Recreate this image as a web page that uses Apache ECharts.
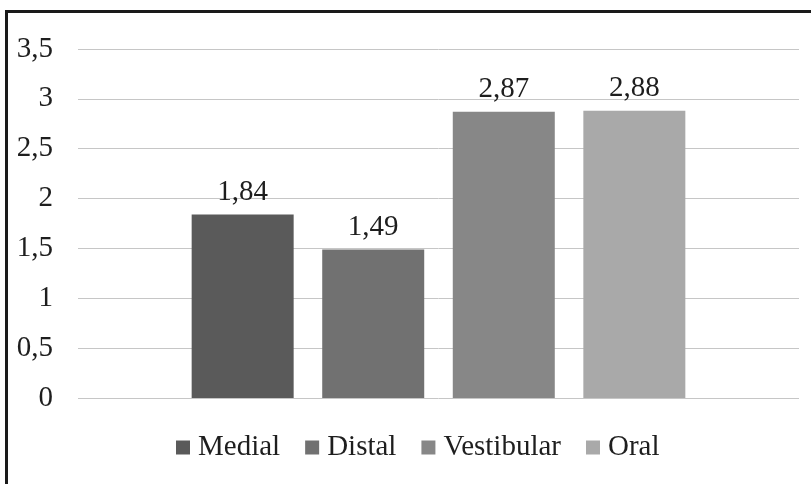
<!DOCTYPE html>
<html>
<head>
<meta charset="utf-8">
<script src="https://cdn.jsdelivr.net/npm/echarts@6/dist/echarts.min.js"></script>
<style>
  html, body { margin: 0; padding: 0; background: #fff; }
  #chart { width: 811px; height: 484px; }
</style>
</head>
<body>
<div id="chart"></div>
<script>
// Mean values per surface
const categories = [''];
const seriesNames = ['Medial', 'Distal', 'Vestibular', 'Oral'];
const seriesValues = [1.84, 1.49, 2.87, 2.88];
const seriesColors = ['#5a5a5a', '#717171', '#878787', '#a9a9a9'];
const yTicks = { min: 0, max: 3.5, interval: 0.5 };

const FONT = '"Liberation Serif", "Times New Roman", serif';
const TEXT = '#1e1e1e';
const FS = 29;

const fmt = v => String(v).replace('.', ',');

const chart = echarts.init(document.getElementById('chart'), null, { renderer: 'canvas' });

const series = seriesNames.map((name, i) => ({
  name,
  type: 'bar',
  data: [seriesValues[i]],
  barWidth: 102,
  barGap: '28%',
  itemStyle: { color: seriesColors[i] },
  label: {
    show: true,
    position: 'top',
    distance: 8,
    fontFamily: FONT,
    fontSize: FS,
    color: TEXT,
    formatter: p => fmt(p.value)
  }
}));

chart.setOption({
  animation: false,
  backgroundColor: '#ffffff',
  grid: { left: 78, right: 12, top: 49, bottom: 86, containLabel: false },
  xAxis: {
    type: 'category',
    data: categories,
    axisLine: { show: false },
    axisTick: { show: false },
    axisLabel: { show: false }
  },
  yAxis: {
    type: 'value',
    min: yTicks.min,
    max: yTicks.max,
    interval: yTicks.interval,
    axisLine: { show: false },
    axisTick: { show: false },
    axisLabel: {
      margin: 25,
      fontFamily: FONT,
      fontSize: FS,
      color: TEXT,
      formatter: v => fmt(v)
    },
    splitLine: { lineStyle: { color: '#c6c6c6', width: 1 } }
  },
  legend: {
    data: seriesNames,
    left: 171,
    top: 428,
    itemWidth: 14,
    itemHeight: 14,
    itemGap: 25,
    icon: 'rect',
    textStyle: { fontFamily: FONT, fontSize: FS, color: TEXT, padding: [0, 0, 0, 3] }
  },
  // frame along the top and left edges
  graphic: [
    { type: 'rect', shape: { x: 5, y: 10, width: 806, height: 3 }, style: { fill: '#1a1a1a' }, silent: true },
    { type: 'rect', shape: { x: 5, y: 10, width: 3, height: 474 }, style: { fill: '#1a1a1a' }, silent: true }
  ],
  series
});
</script>
</body>
</html>
